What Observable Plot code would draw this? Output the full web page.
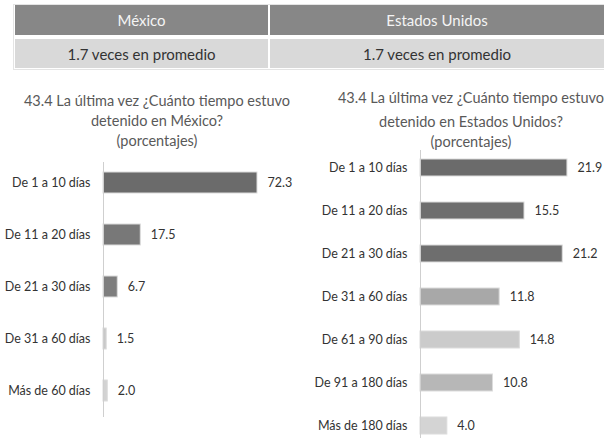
<!DOCTYPE html>
<html>
<head>
<meta charset="utf-8">
<script src="https://cdn.jsdelivr.net/npm/d3@7"></script>
<script src="https://cdn.jsdelivr.net/npm/@observablehq/plot@0.6"></script>
<style>
  html, body { margin: 0; padding: 0; background: #fff; }
  body { width: 604px; height: 438px; position: relative; overflow: hidden; font-family: Lato, "Open Sans", sans-serif; }
  .abs { position: absolute; }
  .table { left: 13px; top: 4px; width: 600px; height: 66px; border: 1px solid #e4e4e4; border-right: none; box-sizing: border-box; }
  .cell { position: absolute; display: flex; align-items: center; justify-content: center; font-size: 15px; }
  .hdr { background: #878787; color: #f4f4f4; top: 5px; height: 30px; }
  .sub { background: #d9d9d9; color: #333; top: 39px; height: 29px; }
  .title { text-align: center; color: #595959; font-size: 14.5px; white-space: nowrap; line-height: 18px; }
  #c1, #c2 { position: absolute; top: 0; height: 438px; }
  #c1 svg, #c2 svg { display: block; max-width: none; }
</style>
</head>
<body>
<div class="abs table"></div>
<div id="h1" class="cell hdr" style="left:15px;width:253px"></div>
<div id="h2" class="cell hdr" style="left:270px;width:334px"></div>
<div id="s1" class="cell sub" style="left:15px;width:253px"></div>
<div id="s2" class="cell sub" style="left:270px;width:334px"></div>
<div id="c1" style="left:0;width:300px"></div>
<div id="c2" style="left:300px;width:304px"></div>
<script>
// ---- data ----
const headers = ["México", "Estados Unidos"];
const averages = ["1.7 veces en promedio", "1.7 veces en promedio"];
const titleMx = ["43.4 La última vez ¿Cuánto tiempo estuvo", "detenido en México?", "(porcentajes)"];
const titleUs = ["43.4 La última vez ¿Cuánto tiempo estuvo", "detenido en Estados Unidos?", "(porcentajes)"];
const mxCategories = ["De 1 a 10 días", "De 11 a 20 días", "De 21 a 30 días", "De 31 a 60 días", "Más de 60 días"];
const mxValues = [72.3, 17.5, 6.7, 1.5, 2.0];
const usCategories = ["De 1 a 10 días", "De 11 a 20 días", "De 21 a 30 días", "De 31 a 60 días", "De 61 a 90 días", "De 91 a 180 días", "Más de 180 días"];
const usValues = [21.9, 15.5, 21.2, 11.8, 14.8, 10.8, 4.0];

// ---- styles ----
const mxShades = ["#6b6b6b", "#787878", "#7e7e7e", "#c8c8c8", "#d2d2d2"];
const usShades = ["#6b6b6b", "#6e6e6e", "#6e6e6e", "#a8a8a8", "#cbcbcb", "#b7b7b7", "#d4d4d4"];

document.getElementById("h1").textContent = headers[0];
document.getElementById("h2").textContent = headers[1];
document.getElementById("s1").textContent = averages[0];
document.getElementById("s2").textContent = averages[1];

function placeTitle(lines, cx, ys) {
  lines.forEach((t, i) => {
    const d = document.createElement("div");
    d.className = "abs title";
    d.textContent = t;
    d.style.left = (cx - 200) + "px";
    d.style.width = "400px";
    d.style.top = (ys[i] - 9) + "px";
    document.body.appendChild(d);
  });
}
placeTitle(titleMx, 157, [101, 121, 141]);
placeTitle(titleUs, 471, [98, 122, 142]);

function chart(cats, vals, shades, opts) {
  const data = cats.map((c, i) => ({cat: c, value: vals[i], shade: shades[i]}));
  return Plot.plot({
    width: opts.width,
    height: 438,
    marginTop: opts.lineTop,
    marginBottom: opts.lineBottom,
    marginLeft: opts.x0,
    marginRight: 0,
    style: {fontFamily: "Lato, 'Open Sans', sans-serif", fontSize: "12.5px", color: "#333", background: "transparent", overflow: "visible"},
    x: {domain: [0, opts.xmax], range: [opts.x0, opts.x0 + opts.xmax * opts.pxPerUnit], axis: null},
    y: {type: "band", domain: cats, range: opts.yRange, paddingInner: 0.6, paddingOuter: 0.3, label: null},
    marks: [
      Plot.axisY({tickSize: 0, tickPadding: 13, fontSize: 12.5, fill: "#333"}),
      Plot.barX(data, {x: "value", y: "cat", fill: "shade", stroke: "#dcdcdc", strokeWidth: 1}),
      Plot.ruleX([0], {stroke: "#cfcfcf"}),
      Plot.text(data, {x: "value", y: "cat", text: d => d.value.toFixed(1), dx: 10, textAnchor: "start", fill: "#333", fontSize: 12.5})
    ]
  });
}

document.getElementById("c1").appendChild(chart(mxCategories, mxValues, mxShades, {
  width: 300, x0: 103, xmax: 80, pxPerUnit: 2.13, yRange: [155, 417], lineTop: 162, lineBottom: 21
}));
document.getElementById("c2").appendChild(chart(usCategories, usValues, usShades, {
  width: 304, x0: 120, xmax: 25, pxPerUnit: 6.71, yRange: [143, 450], lineTop: 150, lineBottom: 0
}));
</script>
</body>
</html>
